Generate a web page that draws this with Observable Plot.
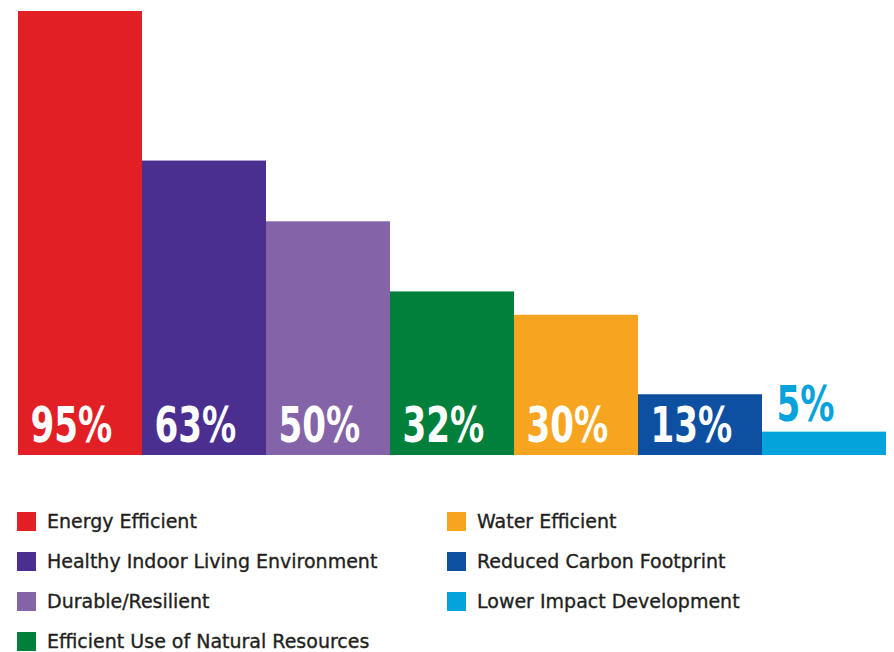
<!DOCTYPE html>
<html>
<head>
<meta charset="utf-8">
<script src="https://cdn.jsdelivr.net/npm/d3@7"></script>
<script src="https://cdn.jsdelivr.net/npm/@observablehq/plot@0.6"></script>
<style>
  html, body { margin: 0; padding: 0; background: #fff; }
  #chart svg { display: block; }
  #legend {
    display: grid;
    grid-auto-flow: column;
    grid-template-rows: repeat(4, 40px);
    grid-template-columns: 430px 430px;
    padding: 36px 0 0 17px;
    font-family: "DejaVu Sans", "Open Sans", sans-serif;
    font-size: 19px;
    color: #231f20;
    -webkit-text-stroke: 0.35px #231f20;
  }
  .item { display: flex; align-items: center; }
  .sw { width: 19px; height: 19px; margin-right: 11px; flex: none; }
</style>
</head>
<body>
<div id="chart"></div>
<div id="legend"></div>
<script>
const categories = [
  "Energy Efficient",
  "Healthy Indoor Living Environment",
  "Durable/Resilient",
  "Efficient Use of Natural Resources",
  "Water Efficient",
  "Reduced Carbon Footprint",
  "Lower Impact Development"
];
const barValues = [95, 63, 50, 35, 30, 13, 5];
const labelTexts = ["95%", "63%", "50%", "32%", "30%", "13%", "5%"];
const colors = ["#e31f26", "#4a2f91", "#8463a8", "#00803b", "#f7a520", "#0d4fa0", "#05a3dc"];

const data = categories.map((c, i) => ({
  category: c, value: barValues[i], label: labelTexts[i],
  inside: barValues[i] >= 10
}));

const labelFont = "'Liberation Sans Narrow', 'DejaVu Sans Condensed', sans-serif";

const chart = Plot.plot({
  width: 894,
  height: 465,
  marginLeft: 18,
  marginRight: 8,
  marginTop: 11,
  marginBottom: 10,
  x: { domain: categories, padding: 0, axis: null },
  y: { domain: [0, 95], axis: null },
  color: { domain: categories, range: colors },
  marks: [
    Plot.barY(data, { x: "category", y: "value", fill: "category" }),
    Plot.text(data.filter(d => d.inside), {
      x: "category", y: 0, text: "label",
      textAnchor: "start", lineAnchor: "bottom",
      dx: -50, dy: -14,
      fill: "white", fontSize: 50, fontWeight: "bold",
      fontFamily: labelFont
    }),
    Plot.text(data.filter(d => !d.inside), {
      x: "category", y: "value", text: "label",
      textAnchor: "start", lineAnchor: "bottom",
      dx: -48, dy: -11,
      fill: "#05a3dc", fontSize: 50, fontWeight: "bold",
      fontFamily: labelFont
    })
  ]
});
// condense the bold value labels horizontally to mimic a condensed typeface
chart.querySelectorAll('g[aria-label="text"] text').forEach(t => {
  const tr = t.getAttribute("transform") || "";
  t.setAttribute("transform", tr + " scale(0.76,1)");
});
document.getElementById("chart").appendChild(chart);

const legend = document.getElementById("legend");
categories.forEach((c, i) => {
  const it = document.createElement("div");
  it.className = "item";
  const sw = document.createElement("span");
  sw.className = "sw";
  sw.style.background = colors[i];
  const t = document.createElement("span");
  t.textContent = c;
  it.appendChild(sw); it.appendChild(t);
  legend.appendChild(it);
});
</script>
</body>
</html>
